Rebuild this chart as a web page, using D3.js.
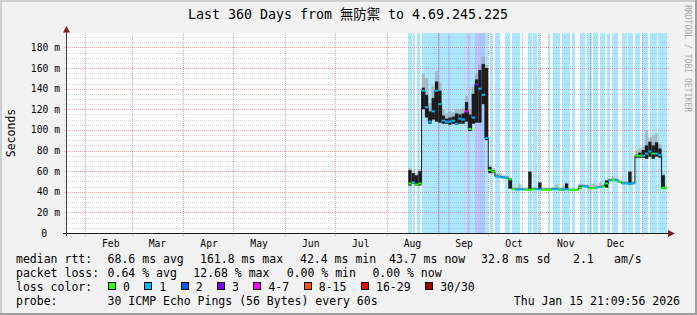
<!DOCTYPE html>
<html lang="en">
<head>
    <meta charset="UTF-8">
    <title>Last 360 Days</title>
    <script src="https://d3js.org/d3.v7.min.js"></script>
    <style>
        body { margin: 0; background: #ffffff; }
        text { font-family: "DejaVu Sans Mono", "Noto Sans CJK TC", monospace; }
    </style>
</head>
<body>
<script type="text/javascript">
    // ---- values ----
    var monthLabels = ["Feb", "Mar", "Apr", "May", "Jun", "Jul", "Aug", "Sep", "Oct", "Nov", "Dec"];
    var yTicks = [0, 20, 40, 60, 80, 100, 120, 140, 160, 180];
    var yTickLabels = ["0", "20 m", "40 m", "60 m", "80 m", "100 m", "120 m", "140 m", "160 m", "180 m"];

    // two-day bins starting 2025-08-14 (ms)
    var medianMs = [48, 49, 47, 48, 138, 122, 108, 118, 138, 125,
        109, 108, 108, 109, 106, 111, 110, 118, 101, 112,
        144, 140, 134, 92, 61, 59.5, 55, 54.5, 54, 53.5,
        52, 42.7, 42.2, 42.3, 42.3, 42, 42, 42.5, 42.5, 42.3,
        42, 42, 42, 42.5, 42.5, 42, 42, 42.5, 41.8, 41.8,
        41.8, 44, 45.5, 45, 43.5, 43.5, 44, 44.5, 45, 48,
        51, 51.5, 51, 49.5, 48, 48, 48, 48, 75, 75,
        75, 77, 79, 77, 77, 75.5, 44, 43.5];
    var smokeLo = [46, 48, 46, 46, 120, 112, 106, 110, 108, 107,
        106, 106, 105, 106, 105, 106, 106, 108, 99, 106,
        107, 107, 125, 90, 58, 58, 54, 54, 53, 53,
        43, 42, 41.8, 41.8, 41.8, 41.6, 41.6, 42, 42, 41.8,
        41.6, 41.6, 41.6, 42, 42, 41.6, 41.6, 42, 41.4, 41.4,
        41.4, 43, 45, 44.5, 43, 43, 43.5, 44, 44.5, 44,
        50.5, 51, 50.5, 48.5, 47.5, 47.5, 47, 47.5, 73, 73,
        73, 72, 74, 72, 74, 73, 43, 43];
    var smokeHi = [61, 58, 56, 60, 141, 134, 118, 131, 147, 138,
        114, 111, 112, 113, 116, 115, 116, 127, 115, 135,
        149, 158, 164, 160, 64, 61, 56, 55.5, 55, 54.5,
        53, 43.5, 43, 43, 43, 43, 59.5, 43.5, 43.5, 49,
        43, 43, 43, 43.5, 43.5, 43, 43, 48, 42.5, 42.5,
        42.5, 46, 46.5, 46, 44.5, 44.5, 45, 45.5, 46, 51,
        52, 52.5, 52, 50.5, 49, 49, 59.5, 49, 76, 78,
        80.5, 85, 88.6, 85, 88, 82, 56, 44.5];
    var smokeTip = [63, 60, 58, 62, 154, 150, 126, 143, 157, 146,
        120, 116, 118, 117, 120, 120, 121, 133, 120, 142,
        155, 163, 171, 163, 66, 63, 58, 58, 56, 55.5,
        54, 44.5, 44, 48, 44, 44, 60, 44.5, 44.5, 49.5,
        44, 44, 44, 44.5, 47, 44, 46, 49, 43.5, 43.5,
        43.5, 48, 47.5, 47, 45.5, 48, 46, 49, 47, 52,
        53, 54, 53, 51.5, 50, 50, 60, 50, 80, 82,
        84, 100, 93, 95, 97, 86, 58, 46];
    var medianLoss = [0, 1, 0, 0, 1, 1, 1, 1, 1, 1,
        1, 1, 1, 1, 1, 1, 1, 4, 0, 1,
        3, 1, 1, 1, 0, 0, 1, 1, 1, 1,
        0, 0, 1, 1, 1, 0, 0, 0, 1, 1,
        0, 0, 0, 1, 1, 0, 1, 1, 0, 0,
        0, 0, 1, 1, 0, 0, 1, 1, 0, 0,
        1, 0, 1, 0, 1, 1, 1, 1, 0, 0,
        1, 1, 1, 0, 1, 1, 0, 0];

    // one-day loss background starting 2025-08-14
    var lossBackground = [1, 1, 0, 1, 0, 1, 1, 0, 1, 1,
        1, 1, 1, 1, 1, 1, 1, 1, 2, 1,
        1, 1, 1, 1, 2, 1, 1, 1, 1, 1,
        1, 1, 1, 1, 1, 4, 2, 1, 1, 1,
        2, 4, 2, 2, 2, 2, 1, 1, 0, 1,
        1, 0, 1, 1, 1, 0, 0, 0, 1, 1,
        1, 0, 1, 1, 1, 1, 1, 0, 1, 0,
        0, 0, 1, 1, 0, 1, 1, 0, 1, 0,
        0, 0, 0, 0, 1, 0, 0, 1, 1, 1,
        1, 0, 1, 1, 1, 1, 1, 0, 1, 1,
        0, 0, 0, 1, 1, 1, 0, 1, 1, 1,
        0, 1, 1, 1, 0, 1, 1, 1, 0, 1,
        1, 0, 1, 1, 1, 1, 0, 0, 1, 1,
        1, 0, 1, 1, 1, 0, 1, 1, 1, 0,
        1, 1, 1, 1, 0, 1, 1, 1, 1, 0,
        1, 1, 1, 1, 1, 1];

    var lossColors = ["#26ff00", "#00b8ff", "#0059ff", "#7e00ff", "#ff00ff", "#ff5500", "#ff0000", "#a00000"];
    var lossLabels = ["0", "1", "2", "3", "4-7", "8-15", "16-29", "30/30"];

    var rttLegend = ["68.6 ms avg", "161.8 ms max", "42.4 ms min", "43.7 ms now", "32.8 ms sd", "2.1", "am/s"];
    var lossLegend = ["0.64 % avg", "12.68 % max", "0.00 % min", "0.00 % now"];

    // ---- layout ----
    var svgWidth = 697;
    var svgHeight = 315;
    var plotLeft = 67, plotRight = 667, plotTop = 33, plotBottom = 233;
    var dayMs = 864e5;
    var binDays = 2;
    var dataStart = Date.UTC(2025, 7, 14);

    var xStart = new Date(Date.UTC(2025, 0, 21, 6));
    var xEnd = new Date(xStart.getTime() + 360 * dayMs);
    var xScale = d3.scaleUtc().domain([xStart, xEnd]).range([plotLeft, plotRight]);
    var yScale = d3.scaleLinear().domain([0, 194]).range([plotBottom, plotTop]);

    var bins = medianMs.map(function (v, i) {
        return {
            t0: new Date(dataStart + i * binDays * dayMs),
            t1: new Date(dataStart + (i + 1) * binDays * dayMs),
            med: v, lo: smokeLo[i], hi: smokeHi[i], tip: smokeTip[i], loss: medianLoss[i]
        };
    });

    var svg = d3.select("body").append("svg")
        .attr("width", svgWidth)
        .attr("height", svgHeight);

    // frame
    svg.append("rect").attr("width", svgWidth).attr("height", svgHeight).attr("fill", "#f2f2f2");
    svg.append("rect").attr("x", 0).attr("y", 0).attr("width", svgWidth).attr("height", 2).attr("fill", "#cfcfcf");
    svg.append("rect").attr("x", 0).attr("y", 0).attr("width", 2).attr("height", svgHeight).attr("fill", "#cfcfcf");
    svg.append("rect").attr("x", 0).attr("y", svgHeight - 2).attr("width", svgWidth).attr("height", 2).attr("fill", "#9e9e9e");
    svg.append("rect").attr("x", svgWidth - 2).attr("y", 0).attr("width", 2).attr("height", svgHeight).attr("fill", "#9e9e9e");

    svg.append("rect")
        .attr("x", plotLeft).attr("y", plotTop)
        .attr("width", plotRight - plotLeft).attr("height", plotBottom - plotTop)
        .attr("fill", "#ffffff");

    svg.append("clipPath").attr("id", "plotClip")
        .append("rect")
        .attr("x", plotLeft).attr("y", plotTop)
        .attr("width", plotRight - plotLeft).attr("height", plotBottom - plotTop);

    var plot = svg.append("g").attr("clip-path", "url(#plotClip)");

    // loss background stripes
    plot.append("g").attr("shape-rendering", "crispEdges")
        .selectAll("rect")
        .data(lossBackground.map(function (c, i) {
            return {t: new Date(dataStart + i * dayMs), code: c};
        }).filter(function (d) { return d.code > 0; }))
        .enter().append("rect")
        .attr("x", function (d) { return xScale(d.t); })
        .attr("width", function (d) { return xScale(new Date(d.t.getTime() + dayMs)) - xScale(d.t); })
        .attr("y", plotTop)
        .attr("height", plotBottom - plotTop)
        .attr("fill", function (d) { return lossColors[d.code]; })
        .attr("fill-opacity", 0.33);

    // grid
    var grid = svg.append("g").attr("shape-rendering", "crispEdges");
    grid.selectAll("line.minor")
        .data(d3.range(5, 194, 5).filter(function (v) { return v % 20 !== 0; }))
        .enter().append("line")
        .attr("x1", plotLeft - 3).attr("x2", plotRight + 3)
        .attr("y1", function (d) { return Math.round(yScale(d)) + 0.5; })
        .attr("y2", function (d) { return Math.round(yScale(d)) + 0.5; })
        .attr("stroke", "#8f8f8f").attr("stroke-opacity", 0.35)
        .attr("stroke-dasharray", "1,1");
    grid.selectAll("line.major")
        .data(yTicks.slice(1))
        .enter().append("line")
        .attr("x1", plotLeft - 3).attr("x2", plotRight + 3)
        .attr("y1", function (d) { return Math.round(yScale(d)) + 0.5; })
        .attr("y2", function (d) { return Math.round(yScale(d)) + 0.5; })
        .attr("stroke", "#de5050").attr("stroke-opacity", 0.55)
        .attr("stroke-dasharray", "1,1");

    var monthStarts = d3.utcMonths(new Date(Date.UTC(2025, 1, 1)), new Date(Date.UTC(2026, 0, 2)));
    grid.selectAll("line.month")
        .data(monthStarts)
        .enter().append("line")
        .attr("x1", function (d) { return Math.round(xScale(d)) + 0.5; })
        .attr("x2", function (d) { return Math.round(xScale(d)) + 0.5; })
        .attr("y1", plotTop).attr("y2", plotBottom + 3)
        .attr("stroke", "#de5050").attr("stroke-opacity", 0.55)
        .attr("stroke-dasharray", "1,1");

    // smoke + median
    var data = svg.append("g").attr("clip-path", "url(#plotClip)");

    data.selectAll("rect.tip")
        .data(bins)
        .enter().append("rect")
        .attr("x", function (d) { return xScale(d.t0); })
        .attr("width", function (d) { return xScale(d.t1) - xScale(d.t0); })
        .attr("y", function (d) { return yScale(d.tip); })
        .attr("height", function (d) { return yScale(d.hi) - yScale(d.tip); })
        .attr("fill", "#9a9a9a").attr("fill-opacity", 0.55);

    data.selectAll("rect.smoke")
        .data(bins)
        .enter().append("rect")
        .attr("x", function (d) { return xScale(d.t0); })
        .attr("width", function (d) { return xScale(d.t1) - xScale(d.t0); })
        .attr("y", function (d) { return yScale(d.hi); })
        .attr("height", function (d) { return yScale(d.lo) - yScale(d.hi); })
        .attr("fill", "#1c1c1c");

    var stepLine = d3.line()
        .x(function (d) { return xScale(d.t); })
        .y(function (d) { return yScale(d.v); })
        .curve(d3.curveStepAfter);
    var stepPoints = bins.map(function (d) { return {t: d.t0, v: d.med}; });
    stepPoints.push({t: bins[bins.length - 1].t1, v: bins[bins.length - 1].med});
    data.append("path")
        .attr("d", stepLine(stepPoints))
        .attr("fill", "none")
        .attr("stroke", "#1c1c1c")
        .attr("stroke-width", 1);

    data.selectAll("rect.med")
        .data(bins)
        .enter().append("rect")
        .attr("x", function (d) { return xScale(d.t0); })
        .attr("width", function (d) { return xScale(d.t1) - xScale(d.t0); })
        .attr("y", function (d) { return yScale(d.med) - 1; })
        .attr("height", 2)
        .attr("fill", function (d) { return lossColors[d.loss]; });

    // axes
    var axis = svg.append("g");
    axis.append("line")
        .attr("x1", plotLeft - 4).attr("x2", plotRight + 2)
        .attr("y1", plotBottom + 0.5).attr("y2", plotBottom + 0.5)
        .attr("stroke", "#1a1a1a");
    axis.append("line")
        .attr("x1", plotLeft - 0.5).attr("x2", plotLeft - 0.5)
        .attr("y1", plotBottom + 3).attr("y2", plotTop - 2)
        .attr("stroke", "#3a3a3a");
    axis.append("path")
        .attr("d", "M" + (plotRight + 1) + "," + (plotBottom - 3) + "L" + (plotRight + 8) + "," + (plotBottom + 0.5) +
            "L" + (plotRight + 1) + "," + (plotBottom + 4) + "Z")
        .attr("fill", "#7f1f1f");
    axis.append("path")
        .attr("d", "M" + (plotLeft - 4) + "," + (plotTop - 0.5) + "L" + (plotLeft - 0.5) + "," + (plotTop - 7) +
            "L" + (plotLeft + 3) + "," + (plotTop - 0.5) + "Z")
        .attr("fill", "#7f1f1f");

    // y labels
    svg.append("g").selectAll("text")
        .data(yTicks)
        .enter().append("text")
        .attr("x", function (d) { return d === 0 ? 47 : 60; })
        .attr("y", function (d) { return yScale(d) + 3.5; })
        .attr("text-anchor", "end")
        .attr("font-size", "9.7px")
        .attr("fill", "#000")
        .text(function (d, i) { return yTickLabels[i]; });

    // x labels (centred mid-month)
    svg.append("g").selectAll("text")
        .data(monthLabels)
        .enter().append("text")
        .attr("x", function (d, i) { return xScale(new Date(monthStarts[i].getTime() + 15.5 * dayMs)); })
        .attr("y", 246.5)
        .attr("text-anchor", "middle")
        .attr("font-size", "9.7px")
        .attr("fill", "#000")
        .text(function (d) { return d; });

    // title, axis title, watermark
    svg.append("text")
        .attr("x", 348).attr("y", 19)
        .attr("text-anchor", "middle")
        .attr("font-size", "13.3px")
        .text("Last 360 Days from 無防禦 to 4.69.245.225");

    svg.append("text")
        .attr("transform", "translate(15,133) rotate(-90)")
        .attr("text-anchor", "middle")
        .attr("font-size", "11.5px")
        .text("Seconds");

    svg.append("text")
        .attr("transform", "translate(685,5) rotate(90)")
        .attr("font-size", "8.1px")
        .attr("fill", "#a8a8a8")
        .text("RRDTOOL / TOBI OETIKER");

    // legend
    var legend = svg.append("g").attr("font-size", "11.5px").attr("fill", "#000");
    var rowY = [263, 277, 291, 305];
    legend.append("text").attr("x", 16).attr("y", rowY[0]).text("median rtt:");
    var rttX = [107.6, 200, 300, 389, 481, 573, 614];
    legend.selectAll("text.rtt")
        .data(rttLegend)
        .enter().append("text")
        .attr("x", function (d, i) { return rttX[i]; })
        .attr("y", rowY[0])
        .text(function (d) { return d; });

    legend.append("text").attr("x", 16).attr("y", rowY[1]).text("packet loss:");
    var lossX = [107.6, 193.3, 286.7, 372.4];
    legend.selectAll("text.loss")
        .data(lossLegend)
        .enter().append("text")
        .attr("x", function (d, i) { return lossX[i]; })
        .attr("y", rowY[1])
        .text(function (d) { return d; });

    legend.append("text").attr("x", 16).attr("y", rowY[2]).text("loss color:");
    var boxX = [];
    var bx = 108;
    lossLabels.forEach(function (l) {
        boxX.push(bx);
        bx += 29.4 + 6.96 * l.length;
    });
    var items = legend.selectAll("g.item")
        .data(lossLabels)
        .enter().append("g");
    items.append("rect")
        .attr("x", function (d, i) { return Math.round(boxX[i]) + 0.5; })
        .attr("y", 282.5)
        .attr("width", 7).attr("height", 7)
        .attr("fill", function (d, i) { return lossColors[i]; })
        .attr("stroke", "#000").attr("stroke-width", 1);
    items.append("text")
        .attr("x", function (d, i) { return boxX[i] + 15; })
        .attr("y", rowY[2])
        .text(function (d) { return d; });

    legend.append("text").attr("x", 16).attr("y", rowY[3]).text("probe:");
    legend.append("text").attr("x", 107.6).attr("y", rowY[3]).text("30 ICMP Echo Pings (56 Bytes) every 60s");
    legend.append("text").attr("x", 680).attr("y", rowY[3]).attr("text-anchor", "end")
        .text("Thu Jan 15 21:09:56 2026");
</script>
</body>
</html>
